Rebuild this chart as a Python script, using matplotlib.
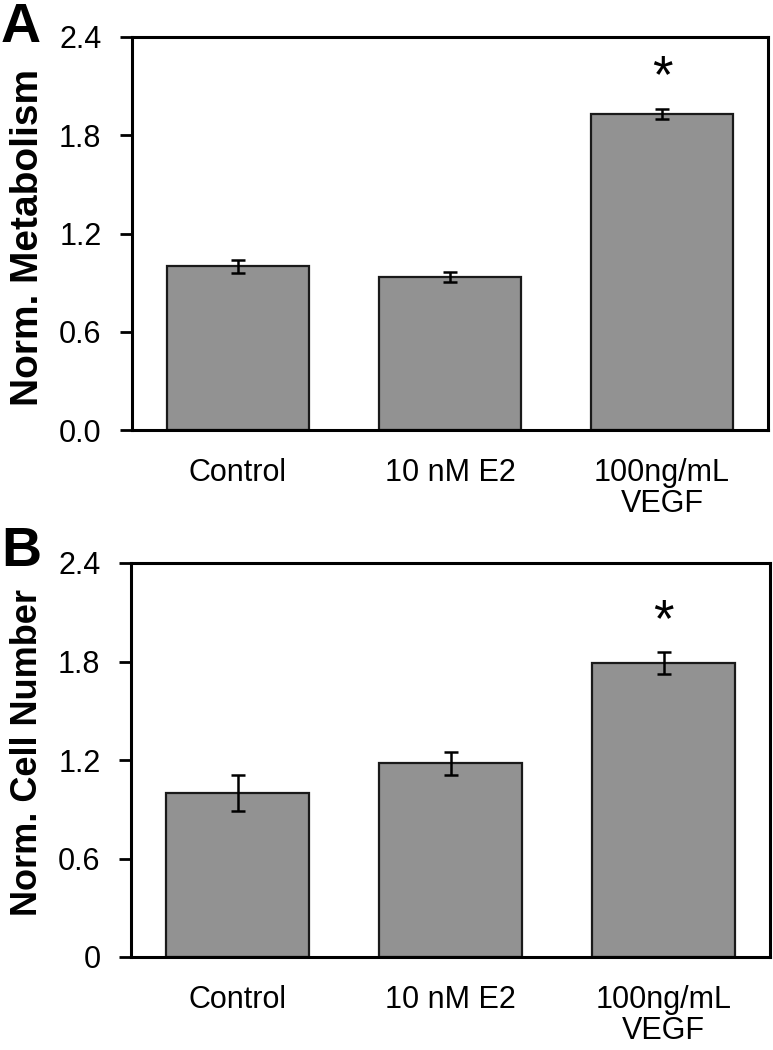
import matplotlib
matplotlib.use("Agg")
import matplotlib.pyplot as plt
import numpy as np

plt.rcParams['font.family'] = ['Liberation Sans', 'DejaVu Sans']

categories = ["Control", "10 nM E2", "100ng/mL\nVEGF"]

metab_vals = [1.00, 0.935, 1.93]
metab_err = [0.04, 0.03, 0.03]
metab_sig = [False, False, True]

cell_vals = [1.00, 1.18, 1.79]
cell_err = [0.11, 0.07, 0.065]
cell_sig = [False, False, True]

yticks = [0.0, 0.6, 1.2, 1.8, 2.4]
yticklabels_a = ["0.0", "0.6", "1.2", "1.8", "2.4"]
yticklabels_b = ["0", "0.6", "1.2", "1.8", "2.4"]

W, H = 773, 1050
fig = plt.figure(figsize=(W / 100, H / 100), dpi=100)

def px_axes(l, t, r, b):
    return fig.add_axes([l / W, 1 - b / H, (r - l) / W, (b - t) / H])

ax_a = px_axes(132, 37, 768, 430)
ax_b = px_axes(131, 563, 770, 957)

def draw(ax, vals, errs, sig, ylabels, ylabel_text, ylabel_size, label_y, letter, letter_base):
    x = np.arange(len(categories))
    ax.bar(x, vals, width=0.67, color="#929292", edgecolor="#1a1a1a", linewidth=1.6, zorder=2)
    ax.errorbar(x, vals, yerr=errs, fmt="none", ecolor="black", elinewidth=1.8,
                capsize=5, capthick=1.8, zorder=3)
    for xi, v, e, s in zip(x, vals, errs, sig):
        if s:
            ax.annotate("*", xy=(xi, v + e), xytext=(0, 22), textcoords="offset points",
                        ha="center", va="center", fontsize=38, color="black")
    ax.set_xlim(-0.5, len(categories) - 0.5)
    ax.set_ylim(0, 2.4)
    ax.set_yticks(yticks)
    ax.set_yticklabels(ylabels)
    ax.set_xticks(x)
    ax.set_xticklabels(categories, linespacing=1.05)
    ax.tick_params(axis="y", direction="out", length=9, width=2, pad=13, labelsize=22)
    ax.tick_params(axis="x", length=0, pad=20, labelsize=22)
    for sp in ax.spines.values():
        sp.set_linewidth(2.2)
        sp.set_color("black")
    fig.text(28 / W, 1 - label_y / H, ylabel_text, rotation=90, ha="center", va="center",
             fontsize=ylabel_size, fontweight="bold")
    fig.text(1 / W, 1 - letter_base / H, letter, ha="left", va="baseline", fontsize=40,
             fontweight="bold")

draw(ax_a, metab_vals, metab_err, metab_sig, yticklabels_a, "Norm. Metabolism", 28, 238, "A", 42)
draw(ax_b, cell_vals, cell_err, cell_sig, yticklabels_b, "Norm. Cell Number", 26, 752, "B", 566)

fig.savefig("out.png", dpi=100)
